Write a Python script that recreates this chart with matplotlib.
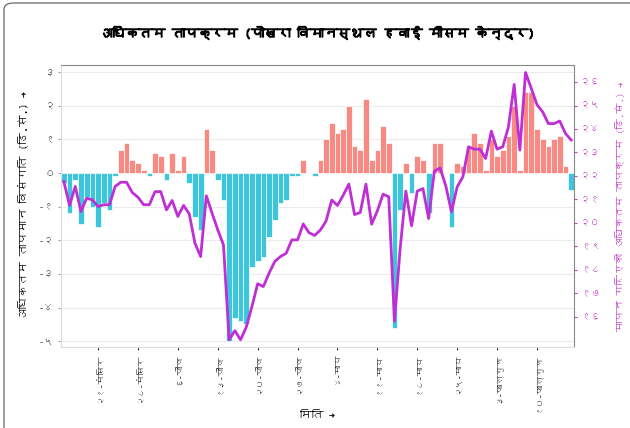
import numpy as np
import matplotlib
matplotlib.use("Agg")
import matplotlib.pyplot as plt
import matplotlib.patheffects as pe
from matplotlib import font_manager
from matplotlib.ft2font import FT2Font
from matplotlib.patches import FancyBboxPatch

# डाटा: दैनिक अधिकतम तापक्रम विसंगति (बार) र मापन गरिएको तापक्रम (रेखा)
anomaly = [-0.3, -1.2, -0.2, -1.5, -0.7, -1.0, -1.6, -0.9, -1.1, -0.1,
           0.7, 0.9, 0.4, 0.3, 0.1, -0.1, 0.6, 0.5, -0.2, 0.6,
           0.1, 0.5, -0.3, -1.3, -1.7, 1.3, 0.7, -0.2, -0.8, -5.0,
           -4.3, -4.4, -4.5, -2.8, -2.6, -2.5, -1.9, -1.4, -0.9, -0.8,
           -0.1, -0.1, 0.4, 0.0, -0.1, 0.4, 1.0, 1.5, 1.2, 1.3,
           2.0, 0.8, 0.7, 2.2, 0.4, 0.7, 1.4, 0.9, -4.6, -1.1,
           0.3, -0.6, 0.5, 0.4, -1.2, 0.9, 0.9, 0.0, -1.6, 0.3,
           0.2, 0.8, 1.2, 0.9, 0.1, 1.0, 0.5, 0.7, 1.1, 2.0,
           0.1, 2.4, 2.4, 1.3, 1.0, 0.8, 1.0, 1.1, 0.2, -0.5]

tmax = [21.76, 20.74, 21.55, 20.48, 21.05, 20.98, 20.69, 20.77, 20.77, 21.55,
        21.73, 21.73, 21.29, 21.09, 20.77, 20.77, 21.33, 21.33, 20.55, 20.95,
        20.27, 20.74, 20.38, 19.13, 18.56, 21.15, 20.41, 19.70, 19.06, 15.01,
        15.40, 15.01, 15.55, 16.43, 17.40, 17.28, 17.85, 18.35, 18.56, 18.70,
        19.27, 19.27, 19.95, 19.58, 19.46, 19.69, 20.07, 20.97, 20.74, 21.17,
        21.65, 20.35, 20.44, 21.65, 19.94, 20.51, 21.22, 21.11, 15.80, 18.90,
        21.35, 19.87, 21.35, 21.46, 20.18, 22.20, 22.34, 21.58, 20.47, 21.53,
        21.96, 23.24, 23.14, 23.14, 22.74, 23.91, 23.14, 23.24, 24.09, 25.90,
        23.10, 26.41, 25.73, 25.04, 24.73, 24.23, 24.23, 24.34, 23.81, 23.53]

tick_pos = [6, 13, 20, 27, 34, 41, 48, 55, 62, 69, 76, 83]
tick_labels = ["२१-मंसिर", "२८-मंसिर", "६-पौष", "१३-पौष", "२०-पौष", "२७-पौष",
               "४-माघ", "११-माघ", "१८-माघ", "२५-माघ", "३-फाल्गुण", "१०-फाल्गुण"]

left_ticks = [3, 2, 1, 0, -1, -2, -3, -4, -5]
left_labels = ["३", "२", "१", "०", "-१", "-२", "-३", "-४", "-५"]
right_ticks = [26, 25, 24, 23, 22, 21, 20, 19, 18, 17, 16]
right_labels = ["२६", "२५", "२४", "२३", "२२", "२१", "२०", "१९", "१८", "१७", "१६"]


# देवनागरी भएको फन्ट खोज्ने
def find_devanagari():
    for f in font_manager.fontManager.ttflist:
        try:
            if 0x0915 in FT2Font(f.fname).get_charmap():
                return f.name
        except Exception:
            pass
    return "DejaVu Sans"


dev = find_devanagari()
plt.rcParams['font.family'] = [dev, 'DejaVu Sans']

RED = "#F88A84"
BLUE = "#3CC6DB"
PURPLE = "#C02ED6"
MAG = "#C63FC6"

fig = plt.figure(figsize=(6.3, 4.28), dpi=100)
# कार्डको किनारा
fig.patches.append(FancyBboxPatch((4 / 630, -0.05), 1.2, 1.05 - 3 / 428,
                                  boxstyle="round,pad=0,rounding_size=0.015",
                                  transform=fig.transFigure, fill=False,
                                  edgecolor="#555555", linewidth=0.8))

ax = fig.add_axes([61 / 630, 1 - 347.3 / 428, 513 / 630, (347.3 - 64.5) / 428])
x = np.arange(len(anomaly))
a = np.array(anomaly)
colors = [RED if v > 0 else BLUE for v in a]
ax.bar(x, a, width=1.0, color=colors, edgecolor="white", linewidth=0.5, zorder=2)

ax.set_xlim(-0.5, len(anomaly) - 0.5)
ax.set_ylim(-5.18, 3.23)
ax.set_yticks(left_ticks)
ax.set_yticklabels(left_labels, fontsize=7.5, color="#444444")
ax.set_xticks(tick_pos)
ax.set_xticklabels(tick_labels, rotation=90, fontsize=6.5, color="#222222")
ax.grid(axis="y", color="#ebebeb", linewidth=0.8, zorder=0)
ax.set_axisbelow(True)
ax.tick_params(axis="x", length=2.5, color="#333333", pad=2)
ax.tick_params(axis="y", length=2.5, color="#aaaaaa", pad=2)
for s in ["left", "bottom"]:
    ax.spines[s].set_color("#dddddd")
for s in ["top", "right"]:
    ax.spines[s].set_color("#888888")

ax.set_xlabel("मिति →", fontsize=8.5)
ax.xaxis.set_label_coords(0.5, -(410 - 347.3) / (347.3 - 64.5))
ax.set_ylabel("अधिकतम तापमान विसंगति (डि.से.) →", fontsize=8.5)
ax.yaxis.set_label_coords(-(61 - 28) / 513, 0.5)

ax2 = ax.twinx()
ax2.plot(x, tmax, color=PURPLE, linewidth=2, zorder=3)
ax2.set_ylim(14.69, 26.75)
ax2.set_yticks(right_ticks)
ax2.set_yticklabels(right_labels, fontsize=7.5, color=MAG)
ax2.tick_params(axis="y", length=2.5, color=MAG, pad=2)
for s in ax2.spines.values():
    s.set_visible(False)
ax2.set_ylabel("मापन गरिएको अधिकतम तापक्रम (डि.से.) →", fontsize=7.5, color=MAG)
ax2.yaxis.set_label_coords((614 - 61) / 513, 0.5)

# फन्टमा bold छैन, त्यसैले stroke ले मोटो बनाउने
fig.text(318 / 630, 1 - 33 / 428, "अधिकतम तापक्रम (पोखरा विमानस्थल हवाई मौसम केन्द्र)",
         ha="center", va="center", fontsize=9.5, fontweight="bold",
         path_effects=[pe.withStroke(linewidth=0.8, foreground="black")])

fig.savefig("out.png", dpi=100)
